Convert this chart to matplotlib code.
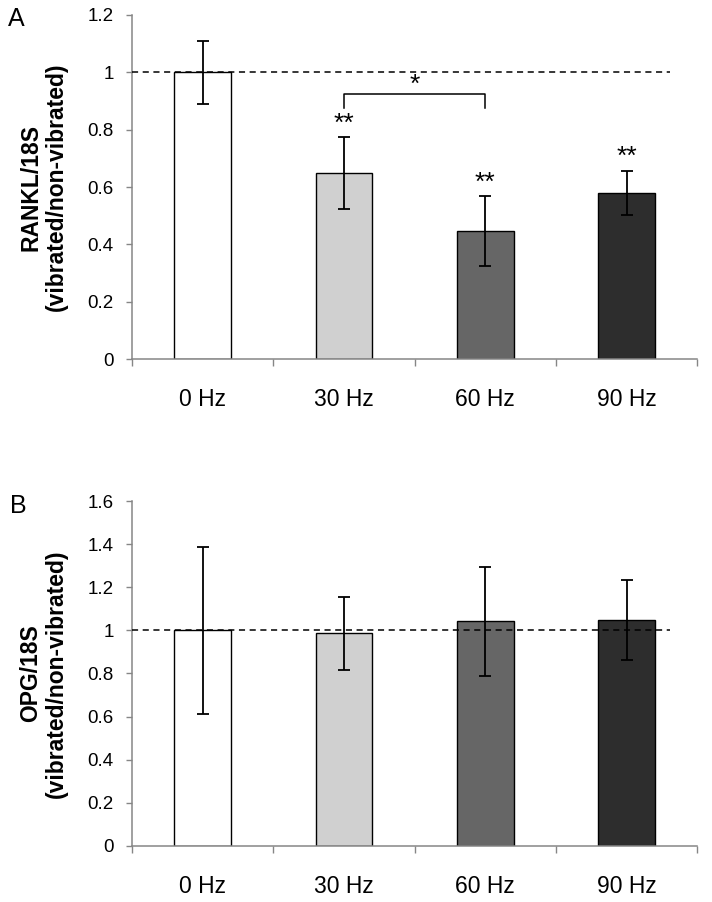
import matplotlib
matplotlib.use("Agg")
import matplotlib.pyplot as plt
import numpy as np

plt.rcParams['font.family'] = ['Liberation Sans', 'DejaVu Sans']

categories = ["0 Hz", "30 Hz", "60 Hz", "90 Hz"]
rankl_mean = [1.00, 0.648, 0.447, 0.580]
rankl_err = [0.110, 0.125, 0.122, 0.077]
opg_mean = [1.00, 0.986, 1.042, 1.050]
opg_err = [0.388, 0.170, 0.253, 0.186]
rankl_sig = ["", "**", "**", "**"]
bar_colors = ["#ffffff", "#d0d0d0", "#666666", "#2d2d2d"]

W, H = 712, 902
fig = plt.figure(figsize=(W / 100, H / 100), dpi=100)

def px_axes(x0, y0, x1, y1):
    return fig.add_axes([x0 / W, 1 - y1 / H, (x1 - x0) / W, (y1 - y0) / H])

ax1 = px_axes(132, 14.7, 697.3, 359.3)
ax2 = px_axes(132, 501.2, 697.3, 845.7)

spine_col = "#868686"

def style(ax, means, errs, ymax, ystep, ylabel, letter):
    x = np.arange(len(categories))
    ax.bar(x, means, width=0.4, color=bar_colors, edgecolor="black", linewidth=1.0, zorder=2)
    ax.errorbar(x, means, yerr=errs, fmt="none", ecolor="black", elinewidth=1.3,
                capsize=4.5, capthick=1.3, zorder=3)
    ax.set_xlim(-0.5, len(categories) - 0.5)
    ax.set_ylim(0, ymax)
    ax.plot([-0.5, 3.31], [1, 1], linestyle=(0, (4, 3)), color="black", linewidth=1.1, zorder=4)
    yt = np.round(np.arange(0, ymax + 1e-9, ystep), 1)
    ax.set_yticks(yt)
    ax.set_yticklabels([("%g" % v) for v in yt], fontsize=13.5)
    ax.set_xticks(np.arange(-0.5, len(categories), 1.0))
    ax.set_xticklabels([""] * (len(categories) + 1))
    ax.set_xticks(x, minor=True)
    ax.set_xticklabels(categories, minor=True, fontsize=16.5)
    ax.tick_params(axis="x", which="minor", length=0, pad=21)
    ax.tick_params(axis="x", which="major", length=5, width=1, color=spine_col, direction="out")
    ax.tick_params(axis="y", length=4.2, width=1, color=spine_col, direction="out", pad=9)
    for s in ["top", "right"]:
        ax.spines[s].set_visible(False)
    for s in ["left", "bottom"]:
        ax.spines[s].set_color(spine_col)
        ax.spines[s].set_linewidth(1.1)
    bb = ax.get_position()
    fig.text(43.5 / W, (bb.y0 + bb.y1) / 2, ylabel, rotation=90, ha="center", va="center",
             fontsize=16.5, fontweight="bold", linespacing=1.15)
    return x

x1 = style(ax1, rankl_mean, rankl_err, 1.2, 0.2, "RANKL/18S\n(vibrated/non-vibrated)", "A")
x2 = style(ax2, opg_mean, opg_err, 1.6, 0.2, "OPG/18S\n(vibrated/non-vibrated)", "B")

fig.text(8 / W, 1 - 19 / H, "A", fontsize=18, ha="left", va="center")
fig.text(10 / W, 1 - 506 / H, "B", fontsize=18, ha="left", va="center")

# significance stars
for xi, m, e, s in zip(x1, rankl_mean, rankl_err, rankl_sig):
    if s:
        ax1.text(xi, m + e + 0.005, s, ha="center", va="bottom", fontsize=19)

# bracket between 30 Hz and 60 Hz
ax1.plot([1, 1, 2, 2], [0.876, 0.923, 0.923, 0.876], color="black", linewidth=1.1)
ax1.text(1.5, 0.915, "*", ha="center", va="bottom", fontsize=19)

fig.savefig("out.png", dpi=100)
